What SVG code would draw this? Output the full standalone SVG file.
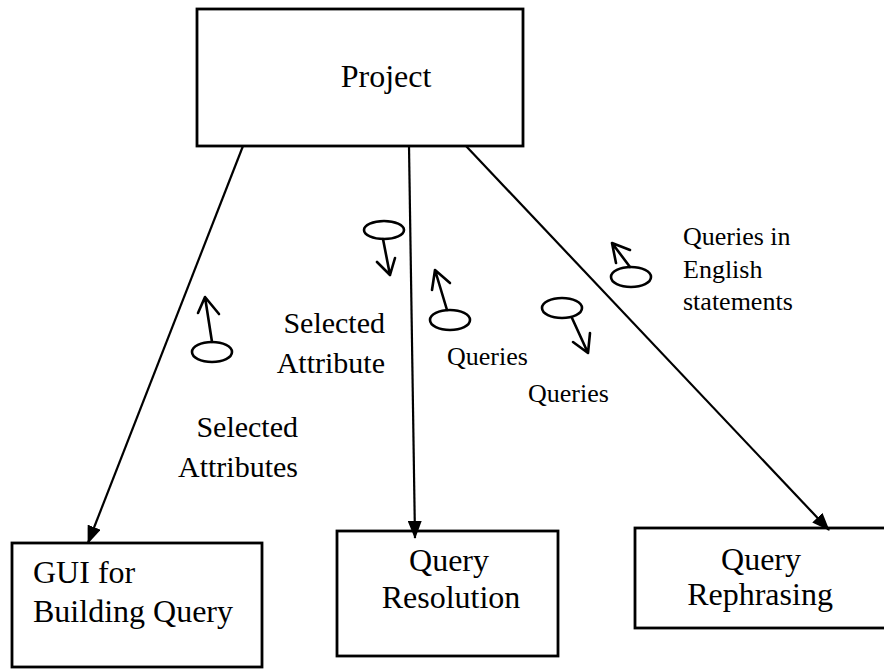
<svg xmlns="http://www.w3.org/2000/svg" width="884" height="670" viewBox="0 0 884 670">
<defs>
<marker id="arr" markerUnits="userSpaceOnUse" markerWidth="18" markerHeight="14" refX="17" refY="7" orient="auto">
<path d="M0,0 L18,7 L0,14 Z" fill="#000"/>
</marker>
<style>
.box{fill:#fff;stroke:#000;stroke-width:2.8}
.t{font-family:"Liberation Serif","Times New Roman",serif;font-size:32px;fill:#000}
.l{font-family:"Liberation Serif","Times New Roman",serif;font-size:30px;fill:#000}
.q{font-family:"Liberation Serif","Times New Roman",serif;font-size:26px;fill:#000}
.c{stroke:#000;stroke-width:2.2;fill:none}
.tok{fill:none;stroke:#000;stroke-width:2.6;stroke-linecap:round;stroke-linejoin:round}
</style>
</defs>
<rect width="884" height="670" fill="#fff"/>
<g id="project">
<rect class="box" x="197" y="9" width="326" height="137"/>
<text class="t" x="386" y="87" text-anchor="middle">Project</text>
</g>
<g id="gui">
<rect class="box" x="12" y="543" width="250" height="124"/>
<text class="t" x="33" y="583">GUI for</text>
<text class="t" x="33" y="622">Building Query</text>
</g>
<g id="resolution">
<rect class="box" x="337" y="531" width="221" height="125"/>
<text class="t" x="449" y="571" text-anchor="middle">Query</text>
<text class="t" x="451" y="608" text-anchor="middle">Resolution</text>
</g>
<g id="rephrasing">
<rect class="box" x="635" y="528" width="252" height="100"/>
<text class="t" x="761" y="570" text-anchor="middle">Query</text>
<text class="t" x="760" y="605" text-anchor="middle">Rephrasing</text>
</g>
<g id="connectors">
<line class="c" x1="243" y1="146" x2="88" y2="543" marker-end="url(#arr)"/>
<line class="c" x1="409" y1="146" x2="415" y2="538" marker-end="url(#arr)"/>
<line class="c" x1="466" y1="146" x2="829" y2="530" marker-end="url(#arr)"/>
</g>
<g id="token-selected-attributes">
<ellipse class="tok" cx="212" cy="352" rx="20" ry="10"/>
<path class="tok" d="M212,342 L205,297 M198,313 L205,297 L219,314"/>
<text class="l" x="298" y="437" text-anchor="end">Selected</text>
<text class="l" x="298" y="477" text-anchor="end">Attributes</text>
</g>
<g id="token-selected-attribute">
<ellipse class="tok" cx="384" cy="230" rx="20" ry="9"/>
<path class="tok" d="M383,239 L390,275 M377,262 L390,275 L395,258"/>
<text class="l" x="385" y="333" text-anchor="end">Selected</text>
<text class="l" x="385" y="373" text-anchor="end">Attribute</text>
</g>
<g id="token-queries-1">
<ellipse class="tok" cx="450" cy="320" rx="20" ry="10"/>
<path class="tok" d="M447,310 L435,270 M432,290 L435,270 L450,283"/>
<text class="q" x="447" y="365">Queries</text>
</g>
<g id="token-queries-2">
<ellipse class="tok" cx="562" cy="308" rx="20" ry="10"/>
<path class="tok" d="M572,318 L588,353 M573,342 L588,353 L590,333"/>
<text class="q" x="528" y="402">Queries</text>
</g>
<g id="token-english">
<ellipse class="tok" cx="631" cy="277" rx="20" ry="10"/>
<path class="tok" d="M630,267 L612,243 M616,263 L612,243 L630,250"/>
<text class="q" x="683" y="245">Queries in</text>
<text class="q" x="683" y="278">English</text>
<text class="q" x="683" y="310">statements</text>
</g>
</svg>
